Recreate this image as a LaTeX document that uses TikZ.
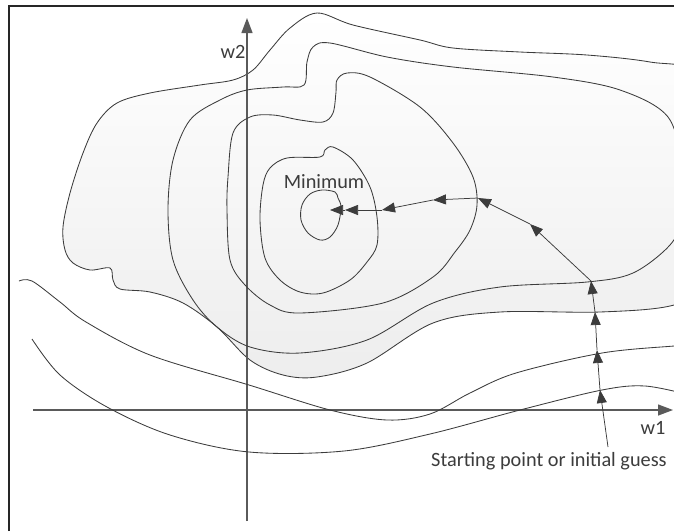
\documentclass[tikz,border=0pt]{standalone}
\usepackage{fontspec}
\setmainfont{Carlito}
\usetikzlibrary{arrows.meta}
\definecolor{linha}{HTML}{3C3C3C}
\definecolor{eixocor}{HTML}{5A5A5A}

\begin{document}
\begin{tikzpicture}[x=1pt,y=-1pt,
    contorno/.style={draw=linha, line width=0.85pt},
    passo/.style={draw=eixocor, line width=0.75pt, -{Triangle[length=13pt,width=10pt]}, color=linha},
    eixo/.style={draw=eixocor, line width=1.3pt, -{Triangle[length=15pt,width=11pt]}},
    rotulo/.style={text=linha, font=\fontsize{20.3}{23}\selectfont, inner sep=0pt}]
    \useasboundingbox (0,0) rectangle (674,531);

    % Moldura
    \draw[line width=1.2pt, black!85] (9,531) -- (9,6) -- (674,6);

    \begin{scope}
    \clip (9,6) rectangle (674,531);

    % Regiao sombreada (curva externa)
    \path[contorno, top color=white, bottom color=black!7]
      plot[smooth cycle, tension=0.55] coordinates {(317,13) (353,25) (420,40) (453,48) (520,52) (587,55) (650,62) (700,75) (720,150) (715,280) (674,305) (600,312) (500,312) (433,323) (367,363) (317,377) (283,375) (250,360) (217,327) (183,303) (150,292) (120,289) (113,280) (110,268) (90,270) (73,263) (65,250) (63,227) (70,193) (83,153) (97,123) (117,103) (150,93) (200,85) (233,80) (253,70) (270,50) (290,28)};

    % Eixos
    \coordinate (w1a) at (33,410);
    \coordinate (w1b) at (673,410);
    \coordinate (w2a) at (247,521);
    \coordinate (w2b) at (247,18);
    \draw[eixo] (w1a) -- (w1b);
    \draw[eixo] (w2a) -- (w2b);

    % Curvas de nivel
    \draw[contorno] plot[smooth cycle, tension=0.55] coordinates {(313,47) (330,43) (387,57) (453,67) (553,77) (620,90) (668,117) (682,170) (680,220) (670,245) (633,273) (587,282) (500,287) (433,303) (367,340) (300,353) (250,347) (217,327) (193,300) (173,260) (168,210) (173,160) (190,120) (220,100) (247,90) (283,87) (304,85) (307,62)};
    \draw[contorno] plot[smooth cycle, tension=0.55] coordinates {(337,80) (347,73) (370,77) (420,107) (453,143) (473,177) (477,205) (470,230) (455,252) (433,277) (383,303) (300,313) (270,305) (245,285) (230,260) (227,210) (228,177) (233,133) (250,117) (273,115) (300,120) (323,122) (333,113) (336,92)};
    \draw[contorno] plot[smooth cycle, tension=0.55] coordinates {(333,147) (353,160) (370,187) (377,217) (377,245) (367,262) (350,280) (323,293) (300,292) (280,280) (265,258) (260,220) (263,185) (270,168) (287,158) (320,157) (325,150)};
    \draw[contorno] plot[smooth cycle, tension=0.55] coordinates {(302,205) (310,194) (322,190) (335,192) (338,198) (341,207) (338,225) (330,237) (320,240) (308,233) (301,220)};
    \draw[contorno] plot[smooth, tension=0.55] coordinates {(19,281) (32,281) (60,302) (86,322) (150,355) (249,385) (330,410) (387,420) (430,414) (470,393) (516,373) (602,353) (674,346) (690,345)};
    \draw[contorno] plot[smooth, tension=0.55] coordinates {(32,339) (60,375) (107,407) (170,435) (249,452) (344,451) (430,434) (520,410) (602,390) (645,386) (690,395)};
    \end{scope}

    % Rotulos
    \node[rotulo] (w2) at (233,52) {w2};
    \node[rotulo] (w1) at (653,428) {w1};
    \node[rotulo] (minimo) at (324,182) {Minimum};
    \node[rotulo] (inicio) at (549,461) {Starting point or initial guess};

    % Passos do gradiente
    \coordinate (s0) at (608,447);
    \coordinate (s1) at (600,390);
    \coordinate (s2) at (597,350);
    \coordinate (s3) at (595,312);
    \coordinate (s4) at (591,281);
    \coordinate (s5) at (530,224);
    \coordinate (s6) at (478,198);
    \coordinate (s7) at (433,200);
    \coordinate (s8) at (382,210);
    \coordinate (s9) at (345,210);
    \coordinate (s10) at (330,210);
    \draw[passo] (s0) -- (s1);
    \draw[passo] (s1) -- (s2);
    \draw[passo] (s2) -- (s3);
    \draw[passo] (s3) -- (s4);
    \draw[passo] (s4) -- (s5);
    \draw[passo] (s5) -- (s6);
    \draw[passo] (s6) -- (s7);
    \draw[passo] (s7) -- (s8);
    \draw[passo] (s8) -- (s9);
    \draw[passo] (s9) -- (s10);
\end{tikzpicture}
\end{document}
